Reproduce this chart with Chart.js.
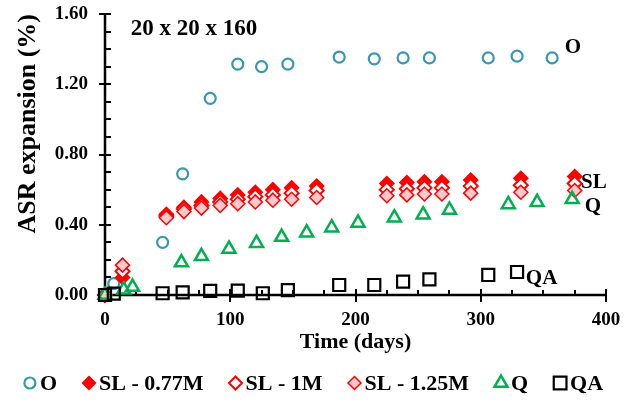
<!DOCTYPE html>
<html>
<head>
<meta charset="utf-8">
<script src="https://cdn.jsdelivr.net/npm/chart.js@4.4.0/dist/chart.umd.min.js"></script>
<style>
html, body { margin: 0; padding: 0; background: #fff; }
</style>
</head>
<body>
<canvas id="asrChart" width="624" height="402"></canvas>
<script>
// time (days) and ASR expansion (%)
const oDays = [0, 7, 46, 62, 84, 106, 125, 146, 187, 215, 238, 259, 306, 329, 357];
const oVals = [0, 0.065, 0.30, 0.69, 1.12, 1.315, 1.30, 1.315, 1.355, 1.345, 1.35, 1.35, 1.35, 1.36, 1.35];

const slDays = [0, 14, 49, 63, 77, 92, 106, 120, 134, 149, 169, 225, 241, 255, 269, 292, 332, 375];
const sl077Vals = [0, 0.10, 0.46, 0.50, 0.53, 0.55, 0.57, 0.585, 0.60, 0.61, 0.62, 0.635, 0.64, 0.645, 0.645, 0.655, 0.665, 0.675];
const sl1Vals = [0, 0.135, 0.45, 0.49, 0.51, 0.53, 0.545, 0.56, 0.57, 0.58, 0.595, 0.60, 0.605, 0.61, 0.61, 0.62, 0.625, 0.635];
const sl125Vals = [0, 0.17, 0.44, 0.475, 0.495, 0.51, 0.52, 0.53, 0.54, 0.545, 0.555, 0.565, 0.57, 0.575, 0.575, 0.58, 0.585, 0.595];

const qDays = [0, 15, 22, 61, 77, 99, 121, 141, 161, 181, 202, 231, 254, 275, 322, 345, 373];
const qVals = [0, 0.03, 0.045, 0.185, 0.22, 0.262, 0.295, 0.33, 0.355, 0.383, 0.41, 0.44, 0.457, 0.484, 0.516, 0.528, 0.545];

const qaDays = [0, 7, 46, 62, 84, 106, 126, 146, 187, 215, 238, 259, 306, 329];
const qaVals = [0, 0.008, 0.01, 0.015, 0.023, 0.025, 0.01, 0.028, 0.057, 0.057, 0.076, 0.089, 0.114, 0.131];

const seriesNames = ['O', 'SL - 0.77M', 'SL - 1M', 'SL - 1.25M', 'Q', 'QA'];
const yTicks = [0, 0.4, 0.8, 1.2, 1.6];
const xTicks = [0, 100, 200, 300, 400];

const FONT = "'Liberation Serif', 'Times New Roman', serif";

function pts(days, vals) {
    return days.map((d, i) => ({ x: d, y: vals[i] }));
}

// text written inside the plot, placed in data units
const tags = [
    { text: '20 x 20 x 160', x: 20.5, y: 1.515, size: 23 },
    { text: 'O', x: 367, y: 1.41, size: 21 },
    { text: 'SL', x: 380, y: 0.64, size: 21 },
    { text: 'Q', x: 383, y: 0.503, size: 21 },
    { text: 'QA', x: 336, y: 0.091, size: 21 }
];

function marker(ctx, ds, r, x, y) {
    ctx.save();
    ctx.fillStyle = ds.pointBackgroundColor;
    ctx.strokeStyle = ds.pointBorderColor;
    ctx.lineWidth = ds.pointBorderWidth;
    Chart.helpers.drawPoint(ctx, { pointStyle: ds.pointStyle, radius: r, borderWidth: ds.pointBorderWidth, rotation: 0 }, x, y);
    ctx.restore();
}

const axesPlugin = {
    id: 'axesPlugin',
    beforeDatasetsDraw(chart) {
        const { ctx, chartArea: a, scales: { x, y } } = chart;
        ctx.save();
        ctx.strokeStyle = '#000';
        ctx.lineWidth = 2.5;
        ctx.beginPath();
        ctx.moveTo(a.left, a.top);
        ctx.lineTo(a.left, a.bottom);
        ctx.lineTo(a.right, a.bottom);
        ctx.stroke();
        ctx.lineWidth = 2;
        ctx.beginPath();
        for (let i = 0; i <= 16; i++) {
            const py = Math.round(y.getPixelForValue(i / 10));
            if (i % 4 === 0) { ctx.moveTo(a.left - 6, py); ctx.lineTo(a.left + 6, py); }
            else { ctx.moveTo(a.left, py); ctx.lineTo(a.left + 6, py); }
            const px = Math.round(x.getPixelForValue(i * 25));
            if (i % 4 === 0) { ctx.moveTo(px, a.bottom - 6); ctx.lineTo(px, a.bottom + 7); }
            else { ctx.moveTo(px, a.bottom); ctx.lineTo(px, a.bottom - 5); }
        }
        ctx.stroke();
        ctx.restore();
    },
    afterDraw(chart) {
        const { ctx, scales: { x, y } } = chart;
        ctx.save();
        ctx.fillStyle = '#000';
        ctx.textAlign = 'left';
        ctx.textBaseline = 'middle';
        tags.forEach(t => {
            ctx.font = 'bold ' + t.size + 'px ' + FONT;
            ctx.fillText(t.text, x.getPixelForValue(t.x), y.getPixelForValue(t.y));
        });

        // legend row
        const legendR = [5.5, 6.5, 6.5, 6.5, 7.5, 9];
        ctx.font = 'bold 22px ' + FONT;
        const sets = chart.data.datasets;
        const widths = sets.map(ds => ctx.measureText(ds.label).width);
        const total = widths.reduce((s, w) => s + w, 0) + sets.length * 10 + (sets.length - 1) * 32;
        let cx = chart.width / 2 + 4.5 - total / 2;
        const ly = 383;
        sets.forEach((ds, i) => {
            marker(ctx, ds, legendR[i], cx, ly);
            ctx.fillStyle = '#000';
            ctx.fillText(ds.label, cx + 10, ly + 1);
            cx += 10 + widths[i] + 32;
        });
        ctx.restore();
    }
};

const ctxAsr = document.getElementById('asrChart');
const asrChart = new Chart(ctxAsr, {
    type: 'scatter',
    data: {
        datasets: [
            { label: seriesNames[0], data: pts(oDays, oVals), pointStyle: 'circle', pointRadius: 5.5,
              pointBackgroundColor: 'rgba(255,255,255,0)', pointBorderColor: '#3a97b0', pointBorderWidth: 2.2, order: 6 },
            { label: seriesNames[1], data: pts(slDays, sl077Vals), pointStyle: 'rectRot', pointRadius: 7,
              pointBackgroundColor: '#ff0000', pointBorderColor: '#ff0000', pointBorderWidth: 1.5, order: 5 },
            { label: seriesNames[2], data: pts(slDays, sl1Vals), pointStyle: 'rectRot', pointRadius: 7,
              pointBackgroundColor: '#ffffff', pointBorderColor: '#ff0000', pointBorderWidth: 2, order: 4 },
            { label: seriesNames[3], data: pts(slDays, sl125Vals), pointStyle: 'rectRot', pointRadius: 7,
              pointBackgroundColor: '#ffc9cc', pointBorderColor: '#ff0000', pointBorderWidth: 1.5, order: 3 },
            { label: seriesNames[4], data: pts(qDays, qVals), pointStyle: 'triangle', pointRadius: 7.5,
              pointBackgroundColor: 'rgba(255,255,255,0)', pointBorderColor: '#00b050', pointBorderWidth: 2.5, order: 2 },
            { label: seriesNames[5], data: pts(qaDays, qaVals), pointStyle: 'rect', pointRadius: 8.5,
              pointBackgroundColor: 'rgba(255,255,255,0)', pointBorderColor: '#000000', pointBorderWidth: 2.2, order: 1 }
        ]
    },
    options: {
        responsive: false,
        animation: false,
        clip: false,
        layout: { padding: { top: 0, right: 0, bottom: 47, left: 0 } },
        plugins: {
            legend: { display: false },
            tooltip: { enabled: false }
        },
        scales: {
            x: {
                type: 'linear',
                min: 0,
                max: 400,
                afterFit: s => { s.height = 60; s.paddingRight = 18; s.paddingLeft = 0; },
                afterBuildTicks: s => { s.ticks = xTicks.map(v => ({ value: v })); },
                ticks: { font: { family: FONT, size: 19, weight: 'bold' }, color: '#000', padding: 14, maxRotation: 0 },
                grid: { display: false, drawTicks: false },
                border: { display: false },
                title: { display: true, text: 'Time (days)', color: '#000',
                         font: { family: FONT, size: 22, weight: 'bold' }, padding: { top: 0, bottom: -1 } }
            },
            y: {
                min: 0,
                max: 1.6,
                afterFit: s => { s.width = 105; s.paddingTop = 14; s.paddingBottom = 0; },
                afterBuildTicks: s => { s.ticks = yTicks.map(v => ({ value: v })); },
                ticks: { font: { family: FONT, size: 19, weight: 'bold' }, color: '#000', padding: 17,
                         callback: v => v.toFixed(2) },
                grid: { display: false, drawTicks: false },
                border: { display: false },
                title: { display: true, text: 'ASR expansion (%)', align: 'end', color: '#000',
                         font: { family: FONT, size: 26, weight: 'bold' }, padding: { top: 13, bottom: 0 } }
            }
        }
    },
    plugins: [axesPlugin]
});
</script>
</body>
</html>
